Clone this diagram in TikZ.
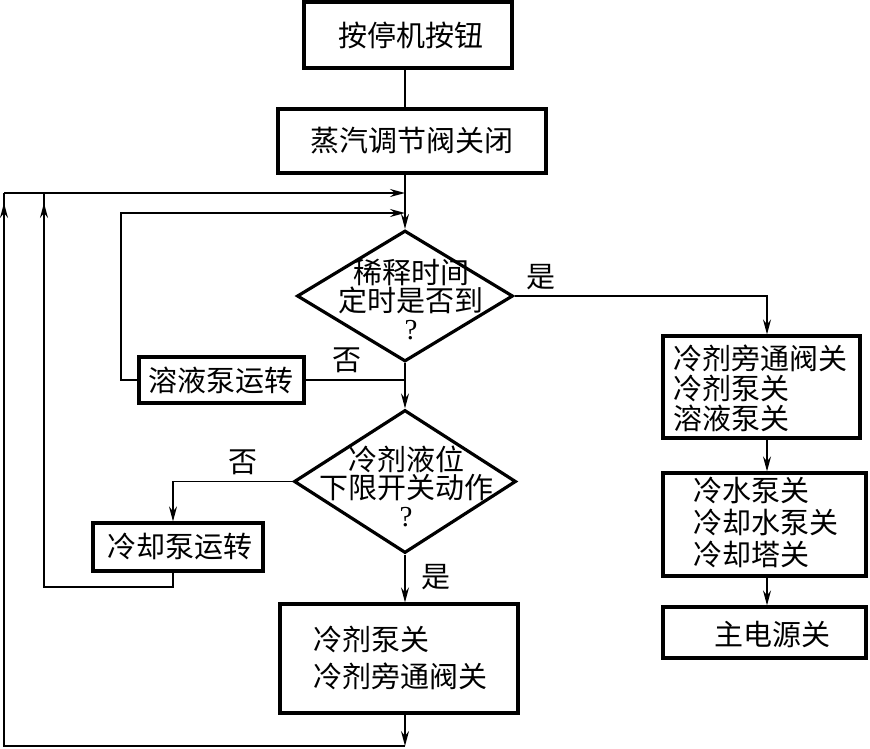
\documentclass[tikz,border=0pt]{standalone}
\usepackage{fontspec}
\setmainfont{Liberation Serif}
\newfontfamily\cjk{Noto Sans CJK SC}
\usetikzlibrary{arrows.meta,shapes.geometric,decorations.markings}
\begin{document}
\begin{tikzpicture}[x=1pt,y=-1pt,
 box/.style={draw,line width=3.2pt,inner sep=0pt},
 dia/.style={draw,diamond,line width=3.2pt,inner sep=0pt},
 txt/.style={font=\cjk\fontsize{29}{30}\selectfont,inner sep=0pt},
 conn/.style={line width=1.4pt},
 arr/.style={conn,-{Stealth[length=15pt,width=8pt,inset=5pt]}},
 midarr/.style={conn,postaction={decorate},decoration={markings,mark=at position #1 with {\arrow{Stealth[length=15pt,width=8pt,inset=5pt]}}}}]
\useasboundingbox (0,0) rectangle (870,749);
% boxes
\node[box,minimum width=208,minimum height=66] (b1) at (408,35) {};
\node[box,minimum width=268,minimum height=64] (b2) at (412,141) {};
\node[dia,minimum width=216,minimum height=131] (d1) at (405,296) {};
\node[box,minimum width=165,minimum height=46] (pump) at (221.5,380) {};
\node[dia,minimum width=222,minimum height=143] (d2) at (405,481.5) {};
\node[box,minimum width=170,minimum height=48] (cool) at (178,547) {};
\node[box,minimum width=238,minimum height=109] (b5) at (399,658.5) {};
\node[box,minimum width=197,minimum height=102] (bA) at (761.5,387) {};
\node[box,minimum width=203,minimum height=103] (bB) at (764.5,524.5) {};
\node[box,minimum width=203,minimum height=51] (bC) at (764.5,632.5) {};
% texts
\node[txt] (t1) at (411,35) {按停机按钮};
\node[txt] (t2) at (412,141) {蒸汽调节阀关闭};
\node[txt,align=center,font=\cjk\fontsize{29}{28}\selectfont] (td1) at (411,300) {稀释时间\\定时是否到\\{\rmfamily ?}};
\node[txt,align=center,font=\cjk\fontsize{29}{28}\selectfont] (td2) at (406,486) {冷剂液位\\下限开关动作\\{\rmfamily ?}};
\node[txt] (tp) at (221,380) {溶液泵运转};
\node[txt] (tc) at (180,547) {冷却泵运转};
\node[txt,align=left,anchor=west] (t5) at (313,658) {冷剂泵关\\[7pt]冷剂旁通阀关};
\node[txt,align=left,anchor=west] (tA) at (673,388) {冷剂旁通阀关\\冷剂泵关\\溶液泵关};
\node[txt,align=left,anchor=west,font=\cjk\fontsize{29}{32}\selectfont] (tB) at (693,522) {冷水泵关\\冷却水泵关\\冷却塔关};
\node[txt] (tC) at (772,635) {主电源关};
% labels
\node[txt] (l1) at (347,360) {否};
\node[txt] (l2) at (541,277) {是};
\node[txt] (l3) at (243,462) {否};
\node[txt] (l4) at (436,577) {是};
% coordinates
\coordinate (m1) at (405,193);
\coordinate (m2) at (405,213);
\coordinate (lp) at (121,213);
\coordinate (xc) at (173,0);
\coordinate (c1) at (173,587);
\coordinate (c2) at (44,587);
\coordinate (c3) at (44,193);
\coordinate (o1) at (405,746);
\coordinate (o2) at (4,746);
\coordinate (o3) at (4,193);
\coordinate (xr) at (767,0);
% connectors
\draw[conn] (b1.south -| d1.north) -- (b2.north -| d1.north);
\draw[arr] (b2.south -| d1.north) -- (d1.north);
\draw[arr] (d1.south) -- (d2.north);
\draw[conn] (pump.east) -- (pump.east -| d1.south);
\draw[arr] (pump.west) -| (lp) -- (m2);
\draw[arr] (d2.west) -| (cool.north -| xc);
\draw[midarr=-10pt] (cool.south -| xc) -- (c1) -- (c2) -- (c3);
\draw[arr] (d2.south) -- (b5.north -| d2.south);
\draw[arr] (b5.south -| d2.south) -- (o1);
\draw[midarr=-10pt] (o1) -- (o2) -- (o3);
\draw[arr] (o3) -- (m1);
\draw[arr] (d1.east) -| (xr |- bA.north);
\draw[arr] (bA.south -| xr) -- (bB.north -| xr);
\draw[arr] (bB.south -| xr) -- (bC.north -| xr);
\end{tikzpicture}
\end{document}
